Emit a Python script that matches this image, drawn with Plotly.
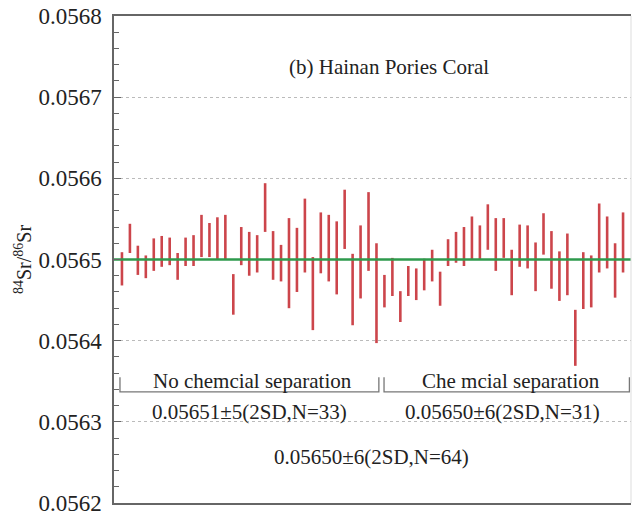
import plotly.graph_objects as go

# ---- data ----
sample_no = list(range(1, 65))
sr_ratio = [
    0.0564885, 0.0565260, 0.0564990, 0.0564910, 0.0565060, 0.0565100, 0.0565100, 0.0564915,
    0.0565095, 0.0565110, 0.0565290, 0.0565240, 0.0565260, 0.0565275, 0.0564570, 0.0565165,
    0.0565070, 0.0565070, 0.0565640, 0.0565050, 0.0564955, 0.0564955, 0.0564995, 0.0565295,
    0.0564580, 0.0565205, 0.0565140, 0.0565020, 0.0565495, 0.0564630, 0.0564970, 0.0565345,
    0.0564585, 0.0564610, 0.0564785, 0.0564420, 0.0564735, 0.0564695, 0.0564815, 0.0564925,
    0.0564640, 0.0565085, 0.0565150, 0.0565160, 0.0565265, 0.0565210, 0.0565400, 0.0565185,
    0.0565265, 0.0564840, 0.0565170, 0.0565155, 0.0564910, 0.0565315, 0.0564995, 0.0564795,
    0.0564940, 0.0564035, 0.0564740, 0.0564730, 0.0565265, 0.0565210, 0.0564865, 0.0565210,
]
sr_2sd = [
    2.05e-5, 1.80e-5, 1.80e-5, 1.40e-5, 2.00e-5, 1.90e-5, 1.70e-5, 1.65e-5,
    1.75e-5, 1.90e-5, 2.60e-5, 2.10e-5, 2.60e-5, 2.75e-5, 2.50e-5, 2.35e-5,
    2.70e-5, 2.30e-5, 3.00e-5, 3.00e-5, 2.25e-5, 5.55e-5, 3.95e-5, 4.55e-5,
    4.50e-5, 3.75e-5, 4.10e-5, 4.50e-5, 3.65e-5, 4.40e-5, 4.50e-5, 4.85e-5,
    6.15e-5, 2.00e-5, 2.35e-5, 1.90e-5, 1.85e-5, 1.95e-5, 1.95e-5, 1.95e-5,
    2.10e-5, 1.65e-5, 1.90e-5, 2.40e-5, 2.65e-5, 2.10e-5, 2.80e-5, 3.25e-5,
    2.45e-5, 2.80e-5, 2.60e-5, 2.65e-5, 3.00e-5, 2.55e-5, 3.55e-5, 3.05e-5,
    3.80e-5, 3.45e-5, 3.50e-5, 3.20e-5, 4.25e-5, 3.20e-5, 3.35e-5, 3.70e-5,
]
mean_all = 0.05650
y_ticks = [0.0562, 0.0563, 0.0564, 0.0565, 0.0566, 0.0567, 0.0568]
y_tick_labels = ["0.0562", "0.0563", "0.0564", "0.0565", "0.0566", "0.0567", "0.0568"]
group_labels = ["No chemcial separation", "Che mcial separation"]
group_stats = ["0.05651\u00b15(2SD,N=33)", "0.05650\u00b16(2SD,N=31)"]
overall_stat = "0.05650\u00b16(2SD,N=64)"
panel_title = "(b) Hainan Pories Coral"

# ---- layout constants ----
X_RANGE = [0, 65]
BRACKETS = [(0.75, 33.3), (33.95, 64.8)]
BRACKET_Y = 0.056337
BRACKET_TOP = 0.056355
FONT = "Liberation Serif"
RED = "#cc454b"
GREEN = "#2e9a4c"

fig = go.Figure()

fig.add_trace(go.Scatter(
    x=sample_no, y=sr_ratio, mode="markers",
    marker=dict(size=1, color="rgba(0,0,0,0)"),
    error_y=dict(type="data", array=sr_2sd, symmetric=True, color=RED,
                 thickness=2.6, width=0),
    showlegend=False, hoverinfo="skip",
))

fig.add_trace(go.Scatter(
    x=X_RANGE, y=[mean_all, mean_all], mode="lines",
    line=dict(color=GREEN, width=2.6), showlegend=False, hoverinfo="skip",
))

shapes = []
for x0, x1 in BRACKETS:
    shapes.append(dict(type="path", xref="x", yref="y",
                       path=f"M {x0},{BRACKET_TOP} L {x0},{BRACKET_Y} L {x1},{BRACKET_Y} L {x1},{BRACKET_TOP}",
                       line=dict(color="#777777", width=1.3)))
shapes.append(dict(type="line", xref="paper", yref="paper", x0=1, x1=1, y0=0, y1=1,
                   line=dict(color="#dddddd", width=1)))

annotations = [
    dict(text=panel_title, x=0.532, y=0.895),
    dict(text=group_labels[0], x=0.267, y=0.2505),
    dict(text=group_labels[1], x=0.768, y=0.2505),
    dict(text=group_stats[0], x=0.263, y=0.187),
    dict(text=group_stats[1], x=0.752, y=0.187),
    dict(text=overall_stat, x=0.498, y=0.0945),
]
for a in annotations:
    a.update(xref="paper", yref="paper", showarrow=False, xanchor="center", yanchor="middle",
             font=dict(family=FONT, size=21, color="#222222"))

fig.update_layout(
    template="none",
    width=639, height=512,
    margin=dict(l=114, r=8, t=16, b=9, autoexpand=False),
    paper_bgcolor="white", plot_bgcolor="white",
    font=dict(family=FONT, color="#222222"),
    shapes=shapes, annotations=annotations,
)
fig.update_xaxes(range=X_RANGE, showticklabels=False, ticks="", showgrid=False,
                 zeroline=False, showline=True, linecolor="#666666", linewidth=1.5,
                 mirror=True, automargin=False)
fig.update_yaxes(range=[0.0562, 0.0568], tickmode="array", tickvals=y_ticks, ticktext=y_tick_labels,
                 ticks="inside", ticklen=7, tickcolor="#666666",
                 minor=dict(dtick=0.00002, ticks="inside", ticklen=5, tickcolor="#666666", showgrid=False),
                 showgrid=True, gridcolor="#bbbbbb", griddash="dot", gridwidth=1,
                 zeroline=False, showline=True, linecolor="#666666", linewidth=1.5,
                 ticklabelstandoff=6, ticklabeloverflow="allow", automargin=False,
                 tickfont=dict(family=FONT, size=23, color="#222222"),
                 title=dict(text="<sup>84</sup>Sr/<sup>86</sup>Sr", standoff=1,
                            font=dict(family=FONT, size=20, color="#222222")))

fig.write_html("out.html")
